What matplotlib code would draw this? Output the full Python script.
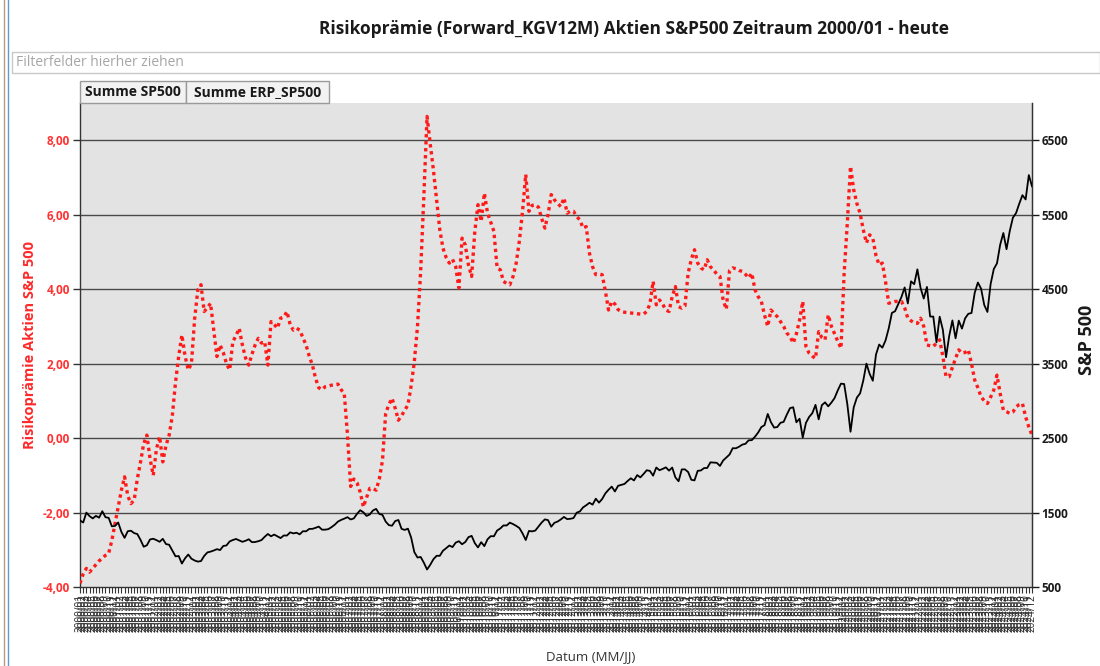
import matplotlib
matplotlib.use("Agg")
import matplotlib.pyplot as plt
from matplotlib.ticker import FuncFormatter, FixedLocator
from matplotlib.patches import Rectangle
from matplotlib.lines import Line2D

# ---------------- data ----------------
years = list(range(2000, 2025))
month_numbers = list(range(1, 13))
date_labels = [f"{y}/{m:02d}" for y in years for m in month_numbers]

# Summe ERP_SP500 (Risikoprämie, left axis)
erp_sp500 = [
    -3.90, -3.65, -3.50, -3.60, -3.50, -3.40, -3.30, -3.22, -3.15, -3.10, -2.75, -2.30,   # 2000
    -1.85, -1.40, -1.04, -1.55, -1.76, -1.67, -1.10, -0.65, -0.15, 0.08, -0.55, -1.00,    # 2001
    -0.30, 0.04, -0.64, -0.20, 0.08, 0.60, 1.50, 2.20, 2.77, 2.20, 1.83, 2.00,            # 2002
    3.20, 3.98, 4.12, 3.40, 3.50, 3.62, 2.90, 2.19, 2.50, 2.30, 2.00, 1.83,               # 2003
    2.59, 2.75, 2.95, 2.50, 2.15, 1.96, 2.25, 2.50, 2.68, 2.55, 2.59, 1.96,               # 2004
    3.13, 3.05, 2.95, 3.22, 3.25, 3.40, 3.05, 2.90, 2.95, 2.90, 2.70, 2.50,               # 2005
    2.20, 1.96, 1.60, 1.35, 1.30, 1.38, 1.40, 1.42, 1.43, 1.45, 1.30, 1.20,               # 2006
    0.10, -1.30, -1.10, -1.20, -1.45, -1.85, -1.60, -1.35, -1.35, -1.40, -1.10, -0.60,    # 2007
    0.66, 0.90, 1.07, 0.80, 0.48, 0.60, 0.75, 0.89, 1.40, 2.05, 3.00, 4.50,               # 2008
    6.50, 8.64, 7.90, 7.20, 6.40, 5.60, 5.10, 4.85, 4.70, 4.80, 4.60, 4.03,               # 2009
    5.37, 5.19, 4.65, 4.34, 5.55, 6.27, 5.82, 6.58, 6.04, 5.80, 5.55, 4.57,               # 2010
    4.52, 4.21, 4.15, 4.12, 4.34, 4.70, 5.30, 6.10, 7.08, 6.09, 6.25, 6.27,               # 2011
    6.20, 5.90, 5.64, 6.00, 6.54, 6.40, 6.30, 6.22, 6.45, 6.04, 6.10, 6.09,               # 2012
    5.95, 5.86, 5.64, 5.68, 4.97, 4.60, 4.39, 4.40, 4.39, 3.95, 3.44, 3.67,               # 2013
    3.60, 3.45, 3.40, 3.38, 3.37, 3.36, 3.35, 3.34, 3.33, 3.33, 3.40, 3.60,               # 2014
    4.21, 3.58, 3.71, 3.60, 3.44, 3.40, 3.80, 4.07, 3.53, 3.49, 3.55, 4.43,               # 2015
    4.80, 5.06, 4.70, 4.57, 4.52, 4.79, 4.60, 4.52, 4.40, 4.34, 3.70, 3.46,               # 2016
    4.50, 4.57, 4.55, 4.50, 4.48, 4.40, 4.30, 4.43, 3.98, 3.80, 3.67, 3.30,               # 2017
    3.00, 3.44, 3.35, 3.26, 3.13, 3.00, 2.82, 2.73, 2.55, 2.80, 3.17, 3.67,               # 2018
    2.46, 2.28, 2.20, 2.14, 2.86, 2.70, 2.64, 3.31, 3.00, 2.80, 2.60, 2.41,               # 2019
    4.43, 5.78, 7.30, 6.67, 6.30, 6.04, 5.60, 5.24, 5.46, 5.37, 4.90, 4.65,               # 2020
    4.70, 4.20, 3.62, 3.65, 3.67, 3.67, 3.67, 3.50, 3.22, 3.15, 3.10, 3.08,               # 2021
    3.22, 3.00, 2.50, 2.48, 2.46, 2.55, 2.64, 2.20, 1.65, 1.65, 1.90, 2.14,               # 2022
    2.37, 2.28, 2.30, 2.37, 2.00, 1.56, 1.35, 1.11, 1.00, 0.93, 1.10, 1.29,               # 2023
    1.69, 1.20, 0.75, 0.71, 0.66, 0.70, 0.84, 0.90, 0.93, 0.57, 0.30, 0.08,               # 2024
]

# Summe SP500 (right axis)
sp500 = [
    1394, 1366, 1499, 1452, 1421, 1455, 1431, 1518, 1437, 1429, 1315, 1320,   # 2000
    1366, 1240, 1160, 1249, 1256, 1224, 1211, 1134, 1041, 1060, 1139, 1148,   # 2001
    1130, 1107, 1147, 1077, 1067, 990, 912, 916, 815, 886, 936, 880,          # 2002
    856, 841, 848, 917, 964, 975, 990, 1008, 996, 1051, 1058, 1112,           # 2003
    1131, 1145, 1126, 1107, 1121, 1141, 1102, 1104, 1115, 1130, 1174, 1212,   # 2004
    1181, 1204, 1181, 1157, 1192, 1191, 1234, 1220, 1229, 1207, 1249, 1248,   # 2005
    1280, 1281, 1295, 1311, 1270, 1270, 1277, 1304, 1336, 1378, 1401, 1418,   # 2006
    1438, 1407, 1421, 1482, 1531, 1503, 1455, 1474, 1527, 1549, 1481, 1468,   # 2007
    1379, 1331, 1323, 1386, 1400, 1280, 1267, 1283, 1165, 969, 896, 903,      # 2008
    826, 735, 798, 873, 919, 919, 987, 1021, 1057, 1036, 1096, 1115,          # 2009
    1074, 1104, 1169, 1187, 1089, 1031, 1102, 1049, 1141, 1183, 1181, 1258,   # 2010
    1286, 1327, 1326, 1364, 1345, 1321, 1292, 1219, 1131, 1253, 1247, 1258,   # 2011
    1312, 1366, 1408, 1398, 1310, 1362, 1379, 1407, 1441, 1412, 1416, 1426,   # 2012
    1498, 1515, 1569, 1598, 1631, 1606, 1686, 1633, 1682, 1757, 1806, 1848,   # 2013
    1783, 1859, 1872, 1884, 1924, 1960, 1931, 2003, 1972, 2018, 2068, 2059,   # 2014
    1995, 2105, 2068, 2086, 2107, 2063, 2104, 1972, 1920, 2079, 2080, 2044,   # 2015
    1940, 1932, 2060, 2065, 2097, 2099, 2174, 2171, 2168, 2126, 2199, 2239,   # 2016
    2279, 2364, 2363, 2384, 2412, 2423, 2470, 2472, 2519, 2575, 2648, 2674,   # 2017
    2824, 2714, 2641, 2648, 2705, 2718, 2816, 2902, 2914, 2712, 2760, 2507,   # 2018
    2704, 2784, 2834, 2946, 2752, 2942, 2980, 2926, 2977, 3038, 3141, 3231,   # 2019
    3226, 2954, 2585, 2912, 3044, 3100, 3271, 3500, 3363, 3270, 3622, 3756,   # 2020
    3714, 3811, 3973, 4181, 4204, 4298, 4395, 4523, 4308, 4605, 4567, 4766,   # 2021
    4516, 4374, 4530, 4132, 4132, 3785, 4130, 3955, 3586, 3872, 4080, 3840,   # 2022
    4077, 3970, 4109, 4169, 4180, 4450, 4589, 4508, 4288, 4194, 4568, 4770,   # 2023
    4846, 5096, 5254, 5036, 5278, 5460, 5522, 5648, 5762, 5705, 6032, 5882,   # 2024
]

left_ticks = [-4, -2, 0, 2, 4, 6, 8]
right_ticks = [500, 1500, 2500, 3500, 4500, 5500, 6500]

title = "Risikoprämie (Forward_KGV12M) Aktien S&P500 Zeitraum 2000/01 - heute"
FONT = ["Open Sans", "DejaVu Sans"]

# ---------------- figure ----------------
W, H = 1100, 666
fig = plt.figure(figsize=(W / 100, H / 100), dpi=100)
fig.patch.set_facecolor("white")


def fx(px):
    return px / W


def fy(py):
    return 1 - py / H


# window frame lines on the left
fig.add_artist(Line2D([fx(4), fx(4)], [0, 1], color="#b89a74", lw=1.0))
fig.add_artist(Line2D([fx(8), fx(8)], [0, 1], color="#5b9bd5", lw=1.0))

# title
fig.text(fx(634), fy(29), title, ha="center", va="center", fontsize=12.5,
         fontweight="bold", family=FONT, color="#1a1a1a")

# filter field box
fig.add_artist(Rectangle((fx(12), fy(73)), fx(1100 - 12), (73 - 52) / H,
                         transform=fig.transFigure, facecolor="white",
                         edgecolor="#c8c8c8", lw=1.0))
fig.text(fx(16), fy(62.5), "Filterfelder hierher ziehen", ha="left", va="center",
         fontsize=10, family=FONT, color="#a6a6a6")

# field buttons
for x0, x1, label in [(80, 186, "Summe SP500"), (186, 329, "Summe ERP_SP500")]:
    fig.add_artist(Rectangle((fx(x0), fy(103)), fx(x1 - x0), 22 / H,
                             transform=fig.transFigure, facecolor="#f2f2f2",
                             edgecolor="#9a9a9a", lw=1.0))
    fig.text(fx((x0 + x1) / 2), fy(92.5), label, ha="center", va="center",
             fontsize=10, fontweight="bold", family=FONT, color="#1a1a1a")

# axes
ax = fig.add_axes([fx(80), fy(587), fx(1032 - 80), (587 - 103) / H])
ax.set_facecolor("#e3e3e3")
n = len(erp_sp500)
xs = list(range(n))

ax.set_ylim(-4, 9)
ax.set_xlim(0, n - 1)
ax.yaxis.set_major_locator(FixedLocator(left_ticks))
ax.yaxis.set_major_formatter(FuncFormatter(lambda v, p: f"{v:.2f}".replace(".", ",")))
for t in left_ticks[1:]:
    ax.axhline(t, color="#4a4a4a", lw=1.0, zorder=1)

ax.plot(xs, erp_sp500, color="#ff1a1a", lw=2.4, linestyle=(0, (1, 1.1)),
        zorder=3, dash_capstyle="butt")

ax.tick_params(axis="y", colors="#ff3333", labelsize=8.5, length=5, width=1,
               direction="out", pad=2)
for lab in ax.get_yticklabels():
    lab.set_fontweight("bold")
    lab.set_family(FONT)
ax.tick_params(axis="y", color="#333333")
ax.set_ylabel("Risikoprämie Aktien S&P 500", color="#ff2a2a", fontsize=10.5,
              fontweight="bold", family=FONT, labelpad=4)

ax.set_xticks(xs)
ax.set_xticklabels(date_labels, rotation=90, fontsize=7.2, family=FONT,
                   color="#2a2a2a")
ax.tick_params(axis="x", length=4, width=0.8, color="#333333", pad=1)

fig.text(fx(591), fy(657), "Datum (MM/JJ)", ha="center", va="center",
         fontsize=9.5, family=FONT, color="#333333")

ax.spines["top"].set_visible(False)
for s in ["left", "right", "bottom"]:
    ax.spines[s].set_color("#333333")
    ax.spines[s].set_linewidth(1.0)

ax2 = ax.twinx()
ax2.set_ylim(500, 7000)
ax2.yaxis.set_major_locator(FixedLocator(right_ticks))
ax2.plot(xs, sp500, color="black", lw=1.3, zorder=4)
ax2.tick_params(axis="y", colors="#1a1a1a", labelsize=8.5, length=5, width=1,
                direction="out", pad=2)
for lab in ax2.get_yticklabels():
    lab.set_fontweight("bold")
    lab.set_family(FONT)
ax2.spines["top"].set_visible(False)
ax2.spines["right"].set_color("#333333")
ax2.spines["left"].set_visible(False)
ax2.spines["bottom"].set_visible(False)

fig.text(fx(1087), fy(340), "S&P 500", rotation=90, ha="center", va="center",
         fontsize=13, fontweight="bold", family=FONT, color="#1a1a1a")

fig.savefig("out.png", dpi=100, facecolor="white")
